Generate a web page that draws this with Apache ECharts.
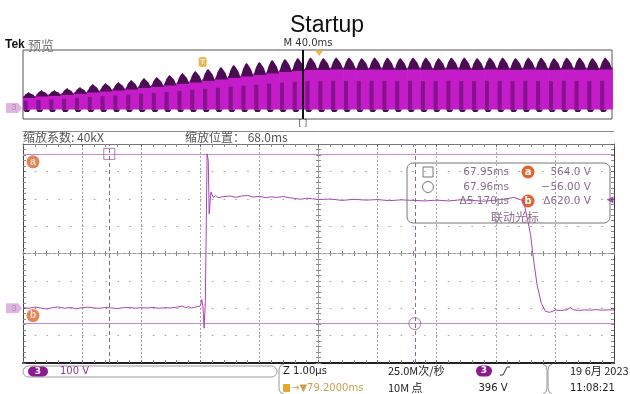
<!DOCTYPE html>
<html>
<head>
<meta charset="utf-8">
<script src="https://cdn.jsdelivr.net/npm/echarts@6/dist/echarts.min.js"></script>
<style>
html,body{margin:0;padding:0;background:#fff;}
#c{width:630px;height:394px;}
</style>
</head>
<body>
<div id="c"></div>
<script>
// ---- Zoomed window, channel 3: [time µs from screen centre, volts] ----
const ch3Samples = [
  [-5.00,2],[-4.90,0],[-4.80,4],[-4.70,1],[-4.60,-3],[-4.50,2],[-4.40,5],[-4.30,0],
  [-4.20,3],[-4.10,-2],[-4.00,2],[-3.90,4],[-3.80,1],[-3.70,0],[-3.60,3],[-3.50,1],
  [-3.40,-1],[-3.30,2],[-3.20,3],[-3.10,0],[-3.00,2],[-2.90,1],[-2.80,3],[-2.70,0],
  [-2.60,2],[-2.50,1],[-2.40,4],[-2.30,8],[-2.25,2],[-2.20,6],[-2.15,1],[-2.10,3],
  [-2.05,6],[-2.00,8],[-1.975,32],[-1.955,5],[-1.935,-73],[-1.915,20],[-1.885,564],
  [-1.865,540],[-1.850,345],[-1.835,340],[-1.820,425],[-1.800,428],[-1.780,405],
  [-1.740,412],[-1.700,404],[-1.600,408],[-1.500,410],[-1.400,405],[-1.300,410],
  [-1.200,412],[-1.100,406],[-1.000,409],[-0.900,404],[-0.800,407],[-0.700,405],
  [-0.600,408],[-0.500,404],[-0.400,401],[-0.300,398],[-0.200,402],[-0.100,400],
  [0.000,397],[0.200,399],[0.400,394],[0.600,398],[0.800,395],[1.000,397],[1.200,393],
  [1.400,396],[1.600,394],[1.800,392],[2.000,395],[2.200,392],[2.400,396],[2.600,394],
  [2.800,391],[3.000,395],[3.200,400],[3.300,405],[3.400,398],[3.470,392],[3.540,321],
  [3.590,266],[3.640,175],[3.700,84],[3.770,18],[3.840,-11],[3.910,-15],[4.010,-7],
  [4.100,-8],[4.200,-6],[4.260,2],[4.320,-6],[4.400,-8],[4.500,-6],[4.600,-7],
  [4.700,-5],[4.800,-7],[4.900,-6],[5.000,-6]
];

// ---- Cursors (a, b) ----
const cursorTime = [-3.54, 1.63];      // µs from screen centre
const cursorVolt = [564, -56];         // V
const cursorNames = ['a', 'b'];
const readoutTime = ['67.95ms', '67.96ms', 'Δ5.170µs'];
const readoutVolt = ['564.0 V', '−56.00 V', 'Δ620.0 V'];
const readoutTitle = '联动光标';

// ---- Trigger / timebase ----
const triggerLevel = 396;              // V
const zoomPosition = 68.0;             // ms after trigger
const horizPosition = 79.2;            // ms after trigger

// ---- Overview record: envelope of each switching burst (V) ----
const overviewStart = -122;            // ms, left edge of record
const overviewPeriod = 8.7;            // ms per burst
const overviewPeak = [160,180,180,200,210,240,250,260,280,300,310,330,350,370,390,410,
  430,450,460,480,490,500,505,500,505,505,500,505,505,500,505,505,500,505,505,500,
  505,505,500,505,505,500,505,505,500,505];
const overviewBody = [110,125,130,140,150,165,175,185,195,210,220,235,250,265,280,295,
  310,325,340,355,370,380,390,390,395,392,390,395,392,390,395,392,390,395,392,390,
  395,392,390,395,392,390,395,392,390,395];
const overviewBase = -15;
const overviewFloor = -40;

// ---- Status bar ----
const chLabel = '3';
const chScale = '100 V';
const timeScale = 'Z 1.00µs';
const posText = '→▼79.2000ms';
const sampleRate = '25.0M次/秒';
const recordLen = '10M 点';
const trigText = '396 V';
const dateText = '19 6月 2023';
const clockText = '11:08:21';

const UI = '"DejaVu Sans", "Liberation Sans", sans-serif';
const CJK = '"Noto Sans CJK SC", sans-serif';
const ORANGE = '#e0642c';
const WAVE = '#a845b4';

const overviewData = overviewPeak.map((p, i) =>
  [overviewStart + (i + 0.5) * overviewPeriod, p, overviewBody[i]]);

function renderBurst(params, api) {
  const t = api.value(0), pk = api.value(1), bd = api.value(2);
  const h = overviewPeriod / 2;
  const xL = api.coord([t - h, 0])[0];
  const xR = api.coord([t + h, 0])[0];
  const w = xR - xL;
  const yPk = api.coord([t, pk])[1];
  const yBd = api.coord([t, bd])[1];
  const yBase = api.coord([t, overviewBase])[1];
  const yFloor = api.coord([t, overviewFloor])[1];
  const capH = yBd - yPk;
  return {
    type: 'group',
    children: [
      { type: 'rect', shape: { x: xL, y: yBd - 1, width: w + 0.6, height: yBase - yBd + 1 },
        style: { fill: '#c41cc8' } },
      { type: 'rect', shape: { x: xL + w * 0.05, y: yBd + (yBase - yBd) * 0.3, width: w * 0.32, height: (yBase - yBd) * 0.7 },
        style: { fill: '#86128f' } },
      { type: 'polygon', shape: { points: [
          [xL, yBd + 1], [xL + w * 0.18, yBd - capH * 0.55], [xL + w * 0.36, yPk + 1],
          [xL + w * 0.45, yPk], [xL + w * 0.56, yPk + 1.5], [xL + w * 0.8, yBd - capH * 0.5],
          [xR, yBd + 1] ] },
        style: { fill: '#4d0b55' } },
      { type: 'polygon', shape: { points: [
          [xL + w * 0.02, yBase], [xL + w * 0.15, yFloor], [xL + w * 0.45, yFloor],
          [xL + w * 0.6, yBase] ] },
        style: { fill: '#4d0b55' } }
    ]
  };
}

const chMarkerPath = 'path://M1,0 L12,0 L16,5 L12,10 L1,10 Q0,10 0,9 L0,1 Q0,0 1,0 Z';

function badge(x, y, letter) {
  return [
    { type: 'circle', shape: { cx: x, cy: y, r: 6.5 }, style: { fill: ORANGE } },
    { type: 'text', x: x, y: y, style: { text: letter, fill: '#fff', font: 'bold 10px ' + UI,
      textAlign: 'center', textVerticalAlign: 'middle' } }
  ];
}

const gridTickAxis = (extra) => Object.assign({
  type: 'value', min: -5, max: 5, interval: 1,
  axisLabel: { show: false }, splitLine: { show: false },
  axisTick: { show: true, inside: true, length: 3, lineStyle: { color: '#666' } },
  minorTick: { show: true, splitNumber: 5, length: 3, lineStyle: { color: '#888' } }
}, extra);

const voltTickAxis = (extra) => Object.assign({
  type: 'value', min: -200, max: 600, interval: 100,
  axisLabel: { show: false }, splitLine: { show: false },
  axisTick: { show: true, inside: true, length: 3, lineStyle: { color: '#666' } },
  minorTick: { show: true, splitNumber: 5, length: 3, lineStyle: { color: '#888' } }
}, extra);

const crossX = (inside, grid) => ({
  type: 'value', gridIndex: grid, min: -5, max: 5, interval: 1, position: 'bottom',
  axisLabel: { show: false }, splitLine: { show: false },
  axisLine: { show: true, onZero: true, lineStyle: { color: '#9a9a9a', type: [3, 2] } },
  axisTick: { show: true, inside: inside, length: 2.5, lineStyle: { color: '#888' } },
  minorTick: { show: true, splitNumber: 5, length: 2.5, lineStyle: { color: '#888' } }
});
const crossY = (inside, grid) => ({
  type: 'value', gridIndex: grid, min: -4, max: 4, interval: 1, position: 'left',
  axisLabel: { show: false }, splitLine: { show: false },
  axisLine: { show: true, onZero: true, lineStyle: { color: '#9a9a9a', type: [3, 2] } },
  axisTick: { show: true, inside: inside, length: 2.5, lineStyle: { color: '#888' } },
  minorTick: { show: true, splitNumber: 5, length: 2.5, lineStyle: { color: '#888' } }
});

const mainRect = { left: 23, top: 144, width: 591, height: 219 };

const option = {
  animation: false,
  backgroundColor: '#fff',
  title: {
    text: 'Startup', left: 285, top: 9,
    textStyle: { fontSize: 23, fontWeight: 'normal', color: '#111', fontFamily: '"Liberation Sans", Arial, sans-serif' }
  },
  grid: [
    { left: 23, top: 50, width: 589, height: 69, show: true, borderColor: '#555', borderWidth: 1,
      backgroundColor: 'transparent', outerBoundsMode: 'none' },
    Object.assign({ outerBoundsMode: 'none' }, mainRect),
    Object.assign({ outerBoundsMode: 'none' }, mainRect),
    Object.assign({ outerBoundsMode: 'none' }, mainRect)
  ],
  xAxis: [
    { type: 'value', gridIndex: 0, min: overviewStart, max: overviewStart + 400,
      axisLine: { show: false }, axisTick: { show: false }, axisLabel: { show: false }, splitLine: { show: false } },
    gridTickAxis({ gridIndex: 1, position: 'bottom',
      axisLine: { show: true, onZero: false, lineStyle: { color: '#222', width: 2 } },
      splitLine: { show: true, lineStyle: { color: '#a8a8a8', type: [2, 2] } } }),
    gridTickAxis({ gridIndex: 1, position: 'top',
      axisLine: { show: true, onZero: false, lineStyle: { color: '#777', width: 1 } } }),
    crossX(true, 2),
    crossX(false, 3)
  ],
  yAxis: [
    { type: 'value', gridIndex: 0, min: -110, max: 580,
      axisLine: { show: false }, axisTick: { show: false }, axisLabel: { show: false }, splitLine: { show: false } },
    voltTickAxis({ gridIndex: 1, position: 'left',
      axisLine: { show: true, onZero: false, lineStyle: { color: '#444', width: 1 } },
      splitLine: { show: true, lineStyle: { color: '#9c9c9c', type: [1.5, 10.3] } } }),
    voltTickAxis({ gridIndex: 1, position: 'right',
      axisLine: { show: true, onZero: false, lineStyle: { color: '#444', width: 1 } } }),
    crossY(true, 2),
    crossY(false, 3)
  ],
  series: [
    // overview record
    { type: 'custom', xAxisIndex: 0, yAxisIndex: 0, data: overviewData, renderItem: renderBurst, silent: true,
      markLine: { silent: true, symbol: ['none', 'none'], label: { show: false },
        lineStyle: { color: '#111', width: 2, type: 'solid' }, data: [{ xAxis: zoomPosition }] } },
    // overview markers: trigger point, zoom bracket, horizontal position, channel
    { type: 'scatter', xAxisIndex: 0, yAxisIndex: 0, clip: false, silent: true, z: 4,
      data: [
        { value: [0, 460], symbol: 'roundRect', symbolSize: [8, 10], itemStyle: { color: '#e6a62c' },
          label: { show: true, formatter: 'T', position: 'inside', color: '#fff', fontSize: 8, fontWeight: 'bold' } },
        { value: [horizPosition, 580], symbol: 'triangle', symbolRotate: 180, symbolSize: [9, 6],
          symbolOffset: [0, 3], itemStyle: { color: '#e6a62c' } },
        { value: [zoomPosition, -110], symbol: 'rect', symbolSize: 2, itemStyle: { color: 'rgba(0,0,0,0)' },
          label: { show: true, formatter: '[ ]', position: 'bottom', distance: 0, color: '#222', fontSize: 8, fontFamily: UI } },
        { value: [overviewStart, 0], symbol: chMarkerPath, symbolSize: [16, 10], symbolOffset: [-9, 0],
          itemStyle: { color: '#d7a3d9' },
          label: { show: true, formatter: chLabel, position: 'inside', color: '#b77ab9', fontSize: 9 } }
      ] },
    // zoomed waveform
    { type: 'line', xAxisIndex: 1, yAxisIndex: 1, data: ch3Samples, showSymbol: false, symbol: 'none',
      lineStyle: { color: WAVE, width: 1 }, silent: true, z: 5,
      markLine: {
        silent: true, symbol: ['none', 'none'], label: { show: false },
        data: [
          { yAxis: cursorVolt[0], lineStyle: { color: '#c78bcd', width: 1, type: 'solid' } },
          { yAxis: cursorVolt[1], lineStyle: { color: '#c78bcd', width: 1, type: 'solid' } },
          { xAxis: cursorTime[0], lineStyle: { color: '#8d6a90', width: 1, type: [4, 3] } },
          { xAxis: cursorTime[1], lineStyle: { color: '#8d6a90', width: 1, type: [4, 3] } }
        ]
      } },
    // cursor handles, cursor tags, channel marker, trigger level
    { type: 'scatter', xAxisIndex: 1, yAxisIndex: 1, clip: false, silent: true, z: 6,
      data: [
        { value: [cursorTime[0], cursorVolt[0]], symbol: 'rect', symbolSize: 11,
          itemStyle: { color: 'rgba(0,0,0,0)', borderColor: '#9a5aa0', borderWidth: 1 } },
        { value: [cursorTime[1], cursorVolt[1]], symbol: 'circle', symbolSize: 12,
          itemStyle: { color: 'rgba(0,0,0,0)', borderColor: '#9a5aa0', borderWidth: 1 } },
        { value: [-5, cursorVolt[0]], symbol: 'circle', symbolSize: 13, symbolOffset: [10, 8],
          itemStyle: { color: ORANGE },
          label: { show: true, formatter: cursorNames[0], position: 'inside', color: '#fff', fontSize: 10, fontWeight: 'bold' } },
        { value: [-5, cursorVolt[1]], symbol: 'circle', symbolSize: 13, symbolOffset: [10, -8],
          itemStyle: { color: ORANGE },
          label: { show: true, formatter: cursorNames[1], position: 'inside', color: '#fff', fontSize: 10, fontWeight: 'bold' } },
        { value: [-5, 0], symbol: chMarkerPath, symbolSize: [16, 10], symbolOffset: [-9, 0],
          itemStyle: { color: '#d7a3d9' },
          label: { show: true, formatter: chLabel, position: 'inside', color: '#b77ab9', fontSize: 9 } },
        { value: [5, triggerLevel], symbol: 'triangle', symbolRotate: 90, symbolSize: [7, 7], symbolOffset: [-4, 0],
          itemStyle: { color: '#8a1f92' } }
      ] }
  ],
  graphic: [
    { type: 'text', x: 5, y: 45, style: { text: 'Tek', font: 'bold 12px "Liberation Sans", sans-serif', fill: '#111', textVerticalAlign: 'middle' } },
    { type: 'text', x: 28, y: 45, style: { text: '预览', font: '13px ' + CJK, fill: '#777', textVerticalAlign: 'middle' } },
    { type: 'text', x: 308, y: 43, style: { text: 'M 40.0ms', font: '10px ' + UI, fill: '#333', textAlign: 'center', textVerticalAlign: 'middle' } },
    { type: 'line', shape: { x1: 23, y1: 131.5, x2: 614, y2: 131.5 }, style: { stroke: '#8a8a8a', lineWidth: 1 } },
    { type: 'text', x: 23, y: 137, style: { text: '缩放系数: 40kX', font: '12px ' + CJK, fill: '#555', textVerticalAlign: 'middle' } },
    { type: 'text', x: 185, y: 137, style: { text: '缩放位置： 68.0ms', font: '12px ' + CJK, fill: '#555', textVerticalAlign: 'middle' } },
    // cursor readout
    { type: 'rect', shape: { x: 407, y: 163, width: 203, height: 60, r: 6 }, style: { fill: 'none', stroke: '#777', lineWidth: 1 }, z: 10 },
    { type: 'rect', shape: { x: 423, y: 167, width: 10, height: 10 }, style: { fill: 'none', stroke: '#777', lineWidth: 1 }, z: 10 },
    { type: 'circle', shape: { cx: 428, cy: 187, r: 5.5 }, style: { fill: 'none', stroke: '#777', lineWidth: 1 }, z: 10 },
    { type: 'text', x: 509, y: 172, z: 10, style: { text: readoutTime[0], font: '10.5px ' + UI, fill: '#8a6d8c', textAlign: 'right', textVerticalAlign: 'middle' } },
    { type: 'text', x: 509, y: 187, z: 10, style: { text: readoutTime[1], font: '10.5px ' + UI, fill: '#8a6d8c', textAlign: 'right', textVerticalAlign: 'middle' } },
    { type: 'text', x: 509, y: 201, z: 10, style: { text: readoutTime[2], font: '10.5px ' + UI, fill: '#8a6d8c', textAlign: 'right', textVerticalAlign: 'middle' } },
    { type: 'text', x: 591, y: 172, z: 10, style: { text: readoutVolt[0], font: '10.5px ' + UI, fill: '#8a6d8c', textAlign: 'right', textVerticalAlign: 'middle' } },
    { type: 'text', x: 591, y: 187, z: 10, style: { text: readoutVolt[1], font: '10.5px ' + UI, fill: '#8a6d8c', textAlign: 'right', textVerticalAlign: 'middle' } },
    { type: 'text', x: 591, y: 201, z: 10, style: { text: readoutVolt[2], font: '10.5px ' + UI, fill: '#8a6d8c', textAlign: 'right', textVerticalAlign: 'middle' } },
    { type: 'text', x: 515, y: 217, z: 10, style: { text: readoutTitle, font: '12px ' + CJK, fill: '#8a6d8c', textAlign: 'center', textVerticalAlign: 'middle' } },
    { type: 'group', z: 10, children: badge(528, 172, cursorNames[0]).concat(badge(528, 201, cursorNames[1])) },
    // status bar
    { type: 'rect', shape: { x: 23, y: 366, width: 254, height: 11, r: 5.5 }, style: { fill: 'none', stroke: '#999', lineWidth: 1 } },
    { type: 'rect', shape: { x: 28, y: 366.5, width: 20, height: 10, r: 5 }, style: { fill: '#8d1a93' } },
    { type: 'text', x: 38, y: 371.5, style: { text: chLabel, font: 'bold 9px ' + UI, fill: '#fff', textAlign: 'center', textVerticalAlign: 'middle' } },
    { type: 'text', x: 60, y: 371.5, style: { text: chScale, font: '10px ' + UI, fill: '#8d3a93', textVerticalAlign: 'middle' } },
    { type: 'polyline', shape: { points: [[284,364],[280.5,365.5],[279,369],[279,389],[280.5,392.5],[284,394]] }, style: { fill: 'none', stroke: '#999', lineWidth: 1 } },
    { type: 'text', x: 283, y: 371, style: { text: timeScale, font: '10px ' + UI, fill: '#222', textVerticalAlign: 'middle' } },
    { type: 'rect', shape: { x: 283, y: 384, width: 7, height: 8, r: 1 }, style: { fill: '#e6a62c' } },
    { type: 'text', x: 291, y: 388.5, style: { text: posText, font: '10px ' + UI, fill: '#c9a04e', textVerticalAlign: 'middle' } },
    { type: 'text', x: 388, y: 371, style: { text: sampleRate, font: '11px ' + CJK, fill: '#222', textVerticalAlign: 'middle' } },
    { type: 'text', x: 388, y: 388, style: { text: recordLen, font: '11px ' + CJK, fill: '#222', textVerticalAlign: 'middle' } },
    { type: 'rect', shape: { x: 476, y: 365.5, width: 16, height: 11, r: 5.5 }, style: { fill: '#8d1a93' } },
    { type: 'text', x: 484, y: 371, style: { text: chLabel, font: 'bold 9px ' + UI, fill: '#fff', textAlign: 'center', textVerticalAlign: 'middle' } },
    { type: 'polyline', shape: { points: [[500,375],[503,375],[507,367],[510,367]] }, style: { fill: 'none', stroke: '#333', lineWidth: 1 } },
    { type: 'text', x: 493, y: 388.5, style: { text: trigText, font: '10px ' + UI, fill: '#222', textAlign: 'center', textVerticalAlign: 'middle' } },
    { type: 'polyline', shape: { points: [[543,364],[546,366],[547,370],[547,388],[546,392],[543,394]] }, style: { fill: 'none', stroke: '#999', lineWidth: 1 } },
    { type: 'polyline', shape: { points: [[552,364],[549,366],[548,370],[548,388],[549,392],[552,394]] }, style: { fill: 'none', stroke: '#999', lineWidth: 1 } },
    { type: 'text', x: 570, y: 371, style: { text: dateText, font: '11px ' + CJK, fill: '#222', textVerticalAlign: 'middle' } },
    { type: 'text', x: 570, y: 388, style: { text: clockText, font: '10px ' + UI, fill: '#222', textVerticalAlign: 'middle' } }
  ]
};

const chart = echarts.init(document.getElementById('c'), null, { renderer: 'canvas', width: 630, height: 394 });
chart.setOption(option);
</script>
</body>
</html>
